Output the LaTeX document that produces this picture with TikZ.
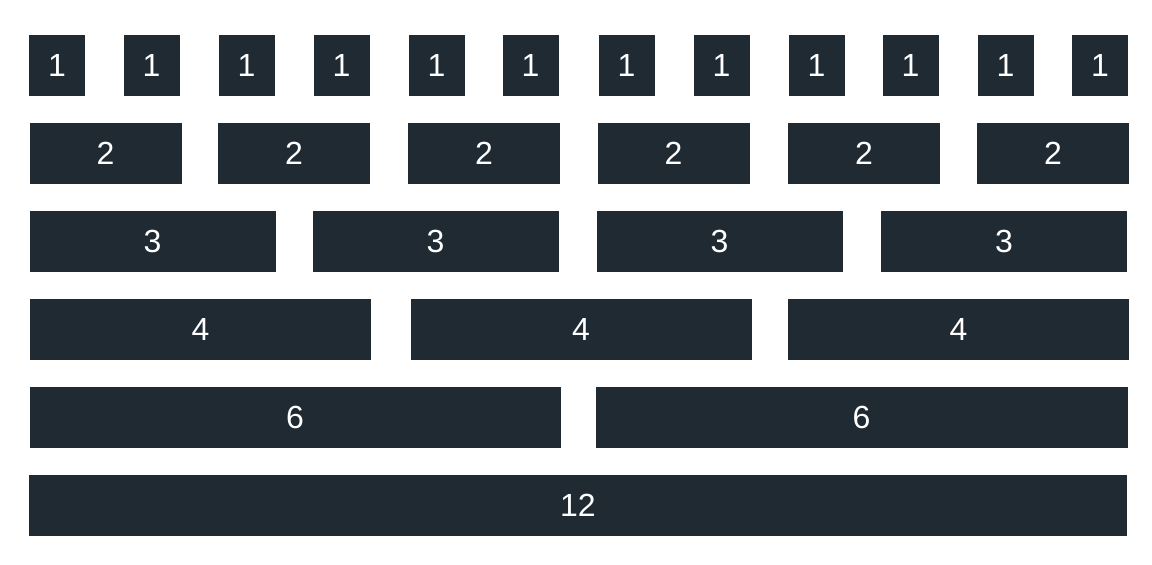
\documentclass[tikz,border=0pt]{standalone}
\usepackage{fontspec}
\setmainfont{Liberation Sans}
\usepackage{tikz}
\definecolor{slate}{RGB}{31,42,51}

\begin{document}
\begin{tikzpicture}[x=1pt, y=-1pt]
\useasboundingbox[fill=white] (0,0) rectangle (1152,565);

\tikzset{BoxStyle/.style = {
 shape = rectangle,
 fill = slate,
 text = white,
 inner sep = 0pt,
 outer sep = 0pt,
 minimum height = 61pt,
 minimum width = #1,
 font = \fontsize{32}{38}\selectfont} }

\node[BoxStyle=56pt] (B1_1) at (57, 65.5) {1};
\node[BoxStyle=56pt] (B1_2) at (151.5, 65.5) {1};
\node[BoxStyle=56pt] (B1_3) at (246.5, 65.5) {1};
\node[BoxStyle=56pt] (B1_4) at (341.5, 65.5) {1};
\node[BoxStyle=56pt] (B1_5) at (436.5, 65.5) {1};
\node[BoxStyle=56pt] (B1_6) at (530.5, 65.5) {1};
\node[BoxStyle=56pt] (B1_7) at (626.5, 65.5) {1};
\node[BoxStyle=56pt] (B1_8) at (721.5, 65.5) {1};
\node[BoxStyle=56pt] (B1_9) at (816.5, 65.5) {1};
\node[BoxStyle=56pt] (B1_10) at (910.5, 65.5) {1};
\node[BoxStyle=56pt] (B1_11) at (1005.5, 65.5) {1};
\node[BoxStyle=56pt] (B1_12) at (1100, 65.5) {1};

\node[BoxStyle=152pt] (B2_1) at (105.5, 153.5) {2};
\node[BoxStyle=152pt] (B2_2) at (294, 153.5) {2};
\node[BoxStyle=152pt] (B2_3) at (484, 153.5) {2};
\node[BoxStyle=152pt] (B2_4) at (673.5, 153.5) {2};
\node[BoxStyle=152pt] (B2_5) at (864, 153.5) {2};
\node[BoxStyle=152pt] (B2_6) at (1053, 153.5) {2};

\node[BoxStyle=246pt] (B3_1) at (152.5, 241.5) {3};
\node[BoxStyle=246pt] (B3_2) at (435.5, 241.5) {3};
\node[BoxStyle=246pt] (B3_3) at (719.5, 241.5) {3};
\node[BoxStyle=246pt] (B3_4) at (1004, 241.5) {3};

\node[BoxStyle=341pt] (B4_1) at (200.5, 329.5) {4};
\node[BoxStyle=341pt] (B4_2) at (581, 329.5) {4};
\node[BoxStyle=341pt] (B4_3) at (958.5, 329.5) {4};

\node[BoxStyle=531pt] (B6_1) at (295, 417.5) {6};
\node[BoxStyle=532pt] (B6_2) at (861.5, 417.5) {6};

\node[BoxStyle=1098pt] (B12_1) at (578, 505.5) {12};

\end{tikzpicture}
\end{document}
